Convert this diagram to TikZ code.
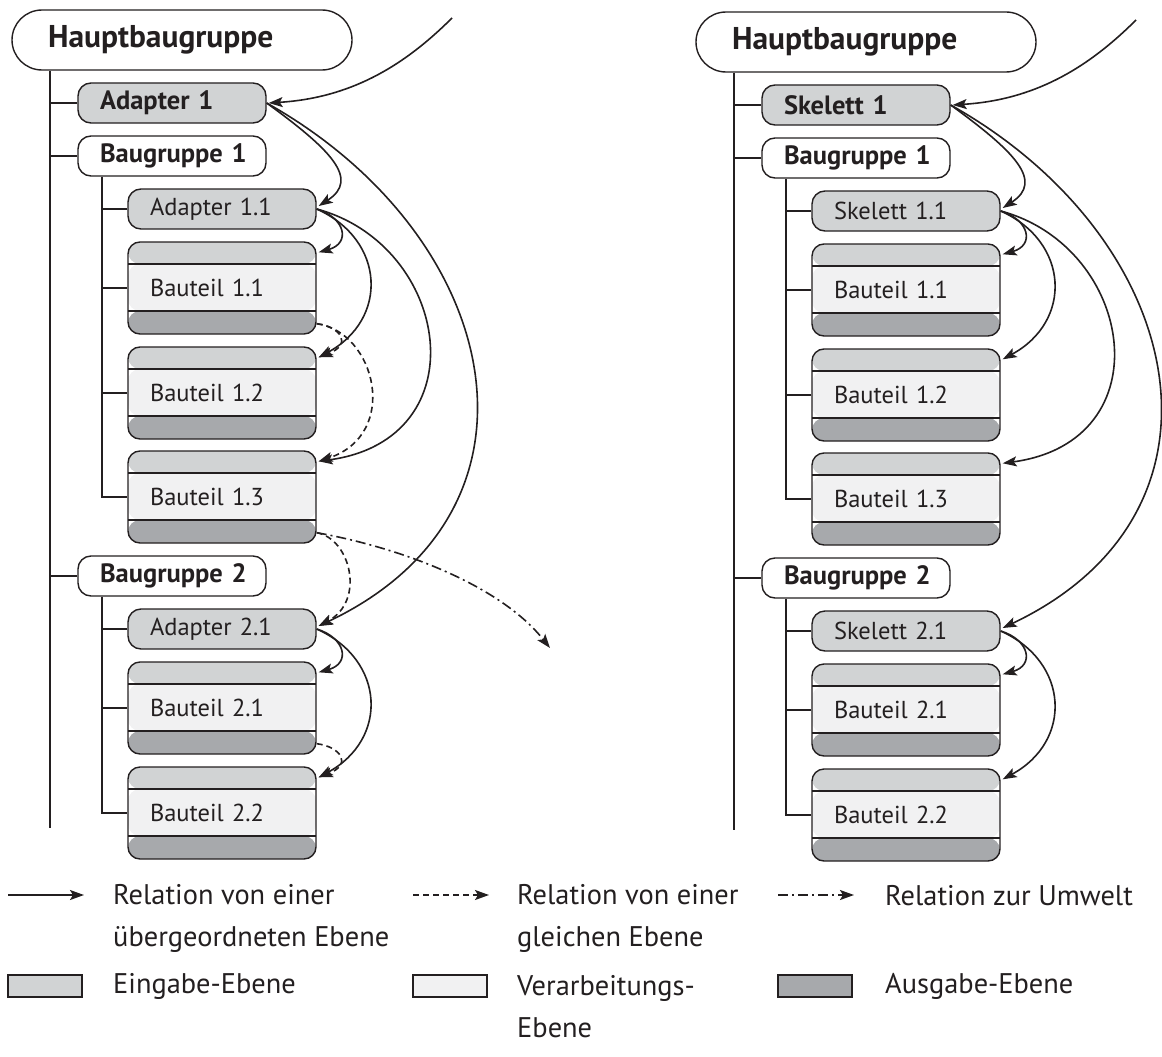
\documentclass[tikz,border=0pt]{standalone}
\usepackage{fontspec}
\setmainfont{PT Sans}
\usetikzlibrary{arrows.meta,calc}
\definecolor{ein}{HTML}{D1D3D4}
\definecolor{verb}{HTML}{F1F1F2}
\definecolor{aus}{HTML}{A7A9AC}
\definecolor{ink}{HTML}{231F20}
\tikzset{
  boxline/.style={draw=ink, line width=1.4pt, text=ink},
  haupt/.style={boxline, fill=white, rounded corners=30pt, minimum height=60pt,
    text width=340pt, inner xsep=0pt, align=left, execute at begin node={\hspace*{36pt}},
    font=\fontsize{31.5}{36}\selectfont\bfseries},
  lvl/.style={boxline, rounded corners=13pt, minimum height=40pt,
    text width=188pt, inner xsep=0pt, inner ysep=0pt, align=left,
    execute at begin node={\hspace*{22pt}}},
  lvla/.style={lvl, fill=ein, font=\fontsize{26.5}{30}\selectfont\bfseries},
  lvlg/.style={lvl, fill=white, font=\fontsize{26.5}{30}\selectfont\bfseries},
  lvlb/.style={lvl, fill=ein, font=\fontsize{24.5}{29}\selectfont},
  teil/.style={boxline, rounded corners=12pt, minimum height=92pt,
    text width=188pt, inner xsep=0pt, inner ysep=0pt, align=left,
    execute at begin node={\hspace*{22pt}},
    font=\fontsize{24.5}{29}\selectfont,
    path picture={
      \fill[ein] (path picture bounding box.north west) rectangle ([yshift=-22pt]path picture bounding box.north east);
      \fill[verb] ([yshift=-22pt]path picture bounding box.north west) rectangle ([yshift=23pt]path picture bounding box.south east);
      \fill[aus] ([yshift=23pt]path picture bounding box.south west) rectangle (path picture bounding box.south east);
      \draw[ink, line width=1.2pt] ([yshift=-22pt]path picture bounding box.north west) -- ([yshift=-22pt]path picture bounding box.north east);
      \draw[ink, line width=1.2pt] ([yshift=23pt]path picture bounding box.south west) -- ([yshift=23pt]path picture bounding box.south east);
    }},
  trunk/.style={draw=ink, line width=2.5pt},
  tip/.style={-{Stealth[length=14pt,width=10pt,inset=3pt]}},
  rel/.style={draw=ink, line width=1.6pt, tip},
  same/.style={rel, dash pattern=on 6pt off 4pt},
  env/.style={rel, dash pattern=on 10pt off 4pt on 2pt off 4pt},
  legtext/.style={text=ink, font=\fontsize{28.4}{42}\selectfont, inner sep=0pt, align=left, anchor=west},
  legbox/.style={draw=ink, line width=1.3pt, minimum width=74pt, minimum height=22pt, inner sep=0pt},
}
\newcommand\mytree[2]{%
  \node[haupt] (#1H) at (182,40) {Hauptbaugruppe};
  \node[lvla] (#1A1) at (172,103) {#2 1};
  \node[lvlg] (#1B1) at (172,156) {Baugruppe 1};
  \node[lvlb] (#1A11) at (222,209) {#2 1.1};
  \node[teil] (#1T11) at (222,288) {Bauteil 1.1};
  \node[teil] (#1T12) at (222,393) {Bauteil 1.2};
  \node[teil] (#1T13) at (222,497) {Bauteil 1.3};
  \node[lvlg] (#1B2) at (172,576) {Baugruppe 2};
  \node[lvlb] (#1A21) at (222,629) {#2 2.1};
  \node[teil] (#1T21) at (222,708) {Bauteil 2.1};
  \node[teil] (#1T22) at (222,813) {Bauteil 2.2};
  \coordinate (#1end) at (50,828);
  \coordinate (#1s1) at (102,176);
  \coordinate (#1s2) at (102,596);
  \coordinate (#1src) at (452,18);
  % tree lines
  \draw[trunk] (#1end |- #1H.south) -- (#1end);
  \draw[trunk] (#1A1.west) -- (#1A1.west -| #1end);
  \draw[trunk] (#1B1.west) -- (#1B1.west -| #1end);
  \draw[trunk] (#1B2.west) -- (#1B2.west -| #1end);
  \draw[trunk] (#1s1 |- #1B1.south) -- (#1s1 |- #1T13.west) -- (#1T13.west);
  \draw[trunk] (#1A11.west) -- (#1A11.west -| #1s1);
  \draw[trunk] (#1T11.west) -- (#1T11.west -| #1s1);
  \draw[trunk] (#1T12.west) -- (#1T12.west -| #1s1);
  \draw[trunk] (#1s2 |- #1B2.south) -- (#1s2 |- #1T22.west) -- (#1T22.west);
  \draw[trunk] (#1A21.west) -- (#1A21.west -| #1s2);
  \draw[trunk] (#1T21.west) -- (#1T21.west -| #1s2);
  % relations from higher level
  \draw[rel] (#1src) .. controls +(-50,50) and +(80,-5) .. ([xshift=2pt]#1A1.east);
  \draw[rel] (#1A1.east) .. controls +(63,46) and +(42,-27) .. ([xshift=2pt,yshift=3pt]#1A11.east);
  \draw[rel] (#1A1.east) .. controls +(237,133) and +(245,-116) .. ([xshift=2pt,yshift=3pt]#1A21.east);
  \draw[rel] (#1A11.east) .. controls +(29,9) and +(32,-9) .. ([xshift=2pt,yshift=-11pt]#1T11.north east);
  \draw[rel] (#1A11.east) .. controls +(69,31) and +(70,-38) .. ([xshift=2pt,yshift=-11pt]#1T12.north east);
  \draw[rel] (#1A11.east) .. controls +(134,36) and +(162,-22) .. ([xshift=2pt,yshift=-11pt]#1T13.north east);
  \draw[rel] (#1A21.east) .. controls +(29,9) and +(32,-9) .. ([xshift=2pt,yshift=-11pt]#1T21.north east);
  \draw[rel] (#1A21.east) .. controls +(69,31) and +(70,-38) .. ([xshift=2pt,yshift=-11pt]#1T22.north east);
}
\begin{document}
\begin{tikzpicture}[x=1pt,y=-1pt]
\useasboundingbox (0,0) rectangle (1162,1057);
\mytree{L}{Adapter}
\begin{scope}[xshift=684pt,yshift=-2pt]
\mytree{R}{Skelett}
\end{scope}
% relations of the same level and to the environment (left tree)
\coordinate (Lenv) at (550,648);
\draw[same] ([yshift=11pt]LT11.south east) .. controls +(24,3) and +(34,-13) .. ([xshift=2pt,yshift=-11pt]LT12.north east);
\draw[same] ([yshift=11pt]LT11.south east) .. controls +(59,8) and +(82,-27) .. ([xshift=2pt,yshift=-11pt]LT13.north east);
\draw[same] ([yshift=11pt]LT13.south east) .. controls +(34,6) and +(47,-25) .. ([xshift=2pt,yshift=3pt]LA21.east);
\draw[env] ([yshift=11pt]LT13.south east) .. controls +(84,15) and +(-50,-63) .. (Lenv);
\draw[same] ([yshift=11pt]LT21.south east) .. controls +(24,3) and +(34,-13) .. ([xshift=2pt,yshift=-11pt]LT22.north east);
% legend
\coordinate (g1a) at (8,895);   \coordinate (g1b) at (84,895);
\coordinate (g2a) at (413,895); \coordinate (g2b) at (489,895);
\coordinate (g3a) at (778,895); \coordinate (g3b) at (854,895);
\draw[rel] (g1a) -- (g1b);
\draw[same] (g2a) -- (g2b);
\draw[env] (g3a) -- (g3b);
\node[legtext] (t1) at (113,918) {Relation von einer\\übergeordneten Ebene};
\node[legtext] (t2) at (517,918) {Relation von einer\\gleichen Ebene};
\node[legtext] (t3) at (885,896) {Relation zur Umwelt};
\node[legbox, fill=ein] (b1) at (45,986) {};
\node[legbox, fill=verb] (b2) at (450,986) {};
\node[legbox, fill=aus] (b3) at (815,986) {};
\node[legtext] (t4) at (113,986) {Eingabe-Ebene};
\node[legtext] (t5) at (517,1007) {Verarbeitungs-\\Ebene};
\node[legtext] (t6) at (885,986) {Ausgabe-Ebene};
\end{tikzpicture}
\end{document}
